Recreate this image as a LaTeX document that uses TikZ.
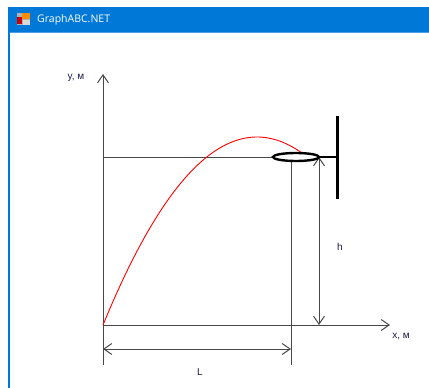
\documentclass[tikz,border=0pt]{standalone}
\usepackage{fontspec}
\setmainfont{Liberation Sans}
\newfontfamily\titlefont{Open Sans}
\usetikzlibrary{arrows.meta}
\definecolor{winblue}{HTML}{0078D7}
\definecolor{lblue}{HTML}{4A9FE8}
\definecolor{labcol}{HTML}{1C1C4A}
\definecolor{axcol}{HTML}{484848}
\tikzset{
  thinln/.style={draw=axcol, line width=1pt},
  vtip/.style={thinln, -{Straight Barb[length=8pt,width=11pt,line width=1pt]}},
  dimln/.style={thinln, {Straight Barb[length=8pt,width=11pt,line width=1pt]}-{Straight Barb[length=8pt,width=11pt,line width=1pt]}},
  thickln/.style={draw=black, line width=2.4pt},
  lab/.style={text=labcol, font=\fontsize{10}{11}\selectfont, inner sep=0pt},
}
\begin{document}
\begin{tikzpicture}[x=1pt,y=-1pt]
\useasboundingbox (0,0) rectangle (429,388);
\fill[white] (0,0) rectangle (429,388);
% window
\fill[winblue] (8,7) rectangle (429,32);
\draw[lblue, line width=1pt] (8,32) -- (429,32);
\draw[winblue, line width=1.5pt] (8.75,32) -- (8.75,388);
% icon
\fill[gray!60] (17,13) rectangle (30,25);
\fill[red!80!black] (17,17) rectangle (22,24);
\fill[orange!90!yellow] (22,13) rectangle (30,19);
\fill[gray!30] (23,20) rectangle (30,25);
\node[anchor=west, text=white, inner sep=0pt, font=\titlefont\fontsize{10.5}{11}\selectfont] (title) at (37,20) {GraphABC.NET};
% key points
\coordinate (O) at (103,325);
\coordinate (Ytop) at (103,74);
\coordinate (Ybot) at (103,365);
\coordinate (Xend) at (390,325);
\coordinate (Lr) at (291,160);
\coordinate (Lrb) at (291,365);
\coordinate (Ldl) at (103,349);
\coordinate (Ldr) at (291,349);
\coordinate (Ht) at (319,157);
\coordinate (Hb) at (319,325);
\coordinate (Hl) at (103,157);
\coordinate (Hr) at (273,157);
\coordinate (Rl) at (318,157);
\coordinate (Rr) at (337,157);
\coordinate (Bt) at (337,116);
\coordinate (Bb) at (337,199);
% axes
\draw[vtip] (Ybot) -- (Ytop);
\draw[vtip] (O) -- (Xend);
% helper lines
\draw[thinln] (Hl) -- (Hr);
\draw[thinln] (Lr) -- (Lrb);
\draw[dimln] (Ldl) -- (Ldr);
\draw[dimln] (Ht) -- (Hb);
% trajectory
\draw[red, line width=0.9pt] plot[domain=103:305, samples=80] (\x, {137+0.793*((\x-257)/10)^2});
% ring and stand
\draw[thickln, fill=white] (296,157) ellipse [x radius=23, y radius=4];
\draw[thickln] (Rl) -- (Rr);
\draw[black, line width=3pt] (Bt) -- (Bb);
% labels
\node[lab] (ylab) at (76,78) {y, м};
\node[lab] (xlab) at (401,336) {x, м};
\node[lab] (hlab) at (340,247) {h};
\node[lab] (Llab) at (200,372) {L};
\end{tikzpicture}
\end{document}
